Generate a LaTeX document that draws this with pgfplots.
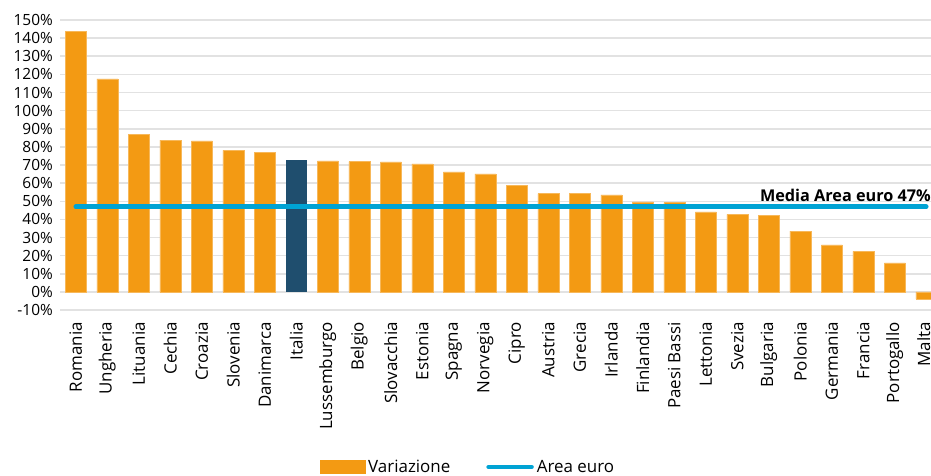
\documentclass[border=0pt]{standalone}
\usepackage{pgfplots}
\pgfplotsset{compat=1.18}
\usepackage{fontspec}
\setmainfont{Open Sans}
\definecolor{orangebar}{HTML}{F39A13}
\definecolor{italiabar}{HTML}{1F4E6E}
\definecolor{eurolin}{HTML}{00A3D4}
\definecolor{gridc}{HTML}{E2E2E2}
\newcommand{\lf}{\fontsize{15.5}{18}\selectfont}
\newcommand{\xf}{\fontsize{17}{20}\selectfont}
\begin{document}
\begin{tikzpicture}
\path[use as bounding box] (-60bp,-166bp) rectangle (871bp,310bp);
\begin{axis}[
  at={(0,0)}, anchor=south west,
  scale only axis,
  width=871bp, height=290bp,
  xmin=-0.5, xmax=27.15,
  ymin=-10, ymax=150,
  ytick={-10,0,10,...,150},
  yticklabels={-10\%,0\%,10\%,20\%,30\%,40\%,50\%,60\%,70\%,80\%,90\%,100\%,110\%,120\%,130\%,140\%,150\%},
  xtick={0,...,27},
  xticklabels={Romania,Ungheria,Lituania,Cechia,Croazia,Slovenia,Danimarca,Italia,Lussemburgo,Belgio,Slovacchia,Estonia,Spagna,Norvegia,Cipro,Austria,Grecia,Irlanda,Finlandia,Paesi Bassi,Lettonia,Svezia,Bulgaria,Polonia,Germania,Francia,Portogallo,\raisebox{5bp}{Malta}},
  x tick label style={rotate=90, anchor=east, inner sep=0pt, font=\xf},
  y tick label style={anchor=east, inner sep=0pt, font=\lf},
  xticklabel shift=12bp,
  yticklabel shift=7bp,
  axis line style={draw=none},
  major tick length=0pt,
  ymajorgrids,
  major grid style={gridc, line width=1.5bp},
  legend style={draw=none, fill=none, at={(0.469,-0.541)}, anchor=center, legend columns=2,
    inner sep=0pt, font=\xf,
    /tikz/every even column/.append style={column sep=33bp},
    nodes={inner xsep=3bp}},
]
\addplot[ybar, bar width=21bp, fill=orangebar, draw=orangebar!70!white, line width=0.4bp,
  legend image code/.code={\fill[orangebar] (0bp,-6.5bp) rectangle (45bp,6.5bp);}]
  coordinates {
  (0,143.8) (1,117.5) (2,87.0) (3,83.7) (4,83.3) (5,78.1) (6,76.9)
  (8,72.3) (9,71.9) (10,71.7) (11,70.6) (12,66.2) (13,65.1) (14,58.8)
  (15,54.2) (16,54.2) (17,53.5) (18,49.6) (19,49.3) (20,44.1) (21,42.8)
  (22,42.3) (23,33.5) (24,25.9) (25,22.4) (26,16.0) (27,-3.9)
  };
\addlegendentry{Variazione}
\addplot[ybar, bar width=21bp, fill=italiabar, draw=none, forget plot]
  coordinates {(7,72.8)};
\addplot[eurolin, line width=4.5bp, line cap=round,
  legend image code/.code={\draw[eurolin, line width=4.5bp, line cap=round] (2bp,0bp) -- (45bp,0bp);}]
  coordinates {(0,47) (27,47)};
\addlegendentry{Area euro}
\end{axis}
\node[anchor=base east, font=\fontsize{16.3}{19}\selectfont\bfseries, inner sep=0pt]
  at (871bp,108bp) {Media Area euro 47\%};
\end{tikzpicture}
\end{document}
